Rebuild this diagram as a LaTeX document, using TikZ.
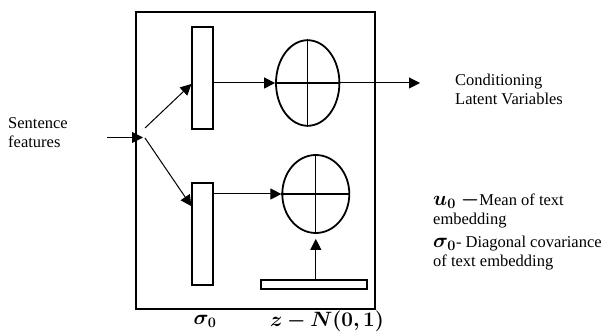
\documentclass[tikz,border=0pt]{standalone}
\usepackage{amsmath}
\usepackage{bm}
\usepackage{fontspec}
\setmainfont{Liberation Serif}
\usetikzlibrary{shapes.geometric,arrows.meta}
\begin{document}
\begin{tikzpicture}[x=1pt,y=-1pt,
  box/.style={draw,line width=1.8pt,inner sep=0pt},
  conn/.style={line width=1pt},
  cross/.style={line width=1.3pt},
  tip/.style={-{Triangle[length=11pt,width=11pt]}},
  txt/.style={font=\fontsize{16.5}{19}\selectfont, inner sep=0pt, align=left},
  lbl/.style={font=\fontsize{20}{22}\selectfont, inner sep=0pt}]
\useasboundingbox (0,0) rectangle (616,336);
\node[box, minimum width=239.3pt, minimum height=297.3pt] (outer) at (255.35,160.35) {};
\node[box, minimum width=21pt, minimum height=102.6pt] (r1) at (202.8,78) {};
\node[box, minimum width=21pt, minimum height=101.7pt] (r2) at (202.8,234.2) {};
\node[box, ellipse, minimum width=63.4pt, minimum height=85.6pt] (e1) at (307.7,83) {};
\node[box, ellipse, minimum width=67pt, minimum height=78pt] (e2) at (315.8,194) {};
\node[box, minimum width=106.6pt, minimum height=9.3pt] (bar) at (314,284.7) {};
\draw[cross] (e1.north) -- (e1.south);
\draw[cross] (e1.west) -- (e1.east);
\draw[cross] (e2.north) -- (e2.south);
\draw[cross] (e2.west) -- (e2.east);
\coordinate (inS) at (107,137.5);
\coordinate (inT) at (143,137.5);
\coordinate (b1) at (145,128);
\coordinate (b2) at (145,138);
\coordinate (out) at (420,83);
\draw[conn,tip] (inS) -- (inT);
\draw[conn,tip] (b1) -- ([yshift=-6pt]r1.west);
\draw[conn,tip] (b2) -- ([yshift=28pt]r2.west);
\draw[conn,tip] (r1.east |- e1.west) -- (e1.west);
\draw[conn,tip] (e1.east) -- (out);
\draw[conn,tip] (r2.east |- e2.west) -- (e2.west);
\draw[conn,tip,shorten >=5pt] (bar.north -| e2.south) -- (e2.south);
\node[txt, anchor=west] (sf) at (8,132.5) {Sentence\\features};
\node[txt, anchor=west] (cl) at (455,89) {Conditioning\\Latent Variables};
\node[txt, anchor=west] (leg1) at (433,210.5) {{\fontsize{20}{20}\selectfont$\bm{u_0}$ $\bm{-}$}Mean of text\\embedding};
\node[txt, anchor=west] (leg2) at (433,253) {{\fontsize{20}{20}\selectfont$\bm{\sigma_0}$}- Diagonal covariance\\of text embedding};
\node[lbl] (s0) at (205,321) {$\bm{\sigma_0}$};
\node[lbl] (zn) at (327,321) {$\bm{z-N(0,1)}$};
\end{tikzpicture}
\end{document}
